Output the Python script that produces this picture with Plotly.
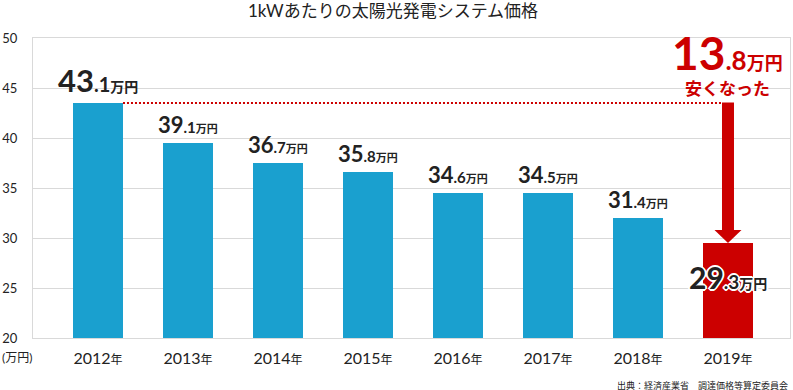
import plotly.graph_objects as go

# ---- data ----
years = ["2012", "2013", "2014", "2015", "2016", "2017", "2018", "2019"]
price_labels = [43.1, 39.1, 36.7, 35.8, 34.6, 34.5, 31.4, 29.3]   # printed values (万円)
bar_heights = [43.5, 39.5, 37.5, 36.6, 34.55, 34.55, 32.0, 29.5]  # heights as drawn
y_ticks = [20, 25, 30, 35, 40, 45, 50]

BLUE = "#1aa0cf"
RED = "#cc0000"
TXT = "#222222"
FONT = "Lato, 'Noto Sans CJK JP', sans-serif"

n = len(years)
xs = list(range(n))
colors = [BLUE] * (n - 1) + [RED]
bw = 50 / 90

fig = go.Figure()
fig.add_trace(go.Bar(x=xs, y=bar_heights, width=bw, marker=dict(color=colors, line=dict(width=0)),
                     base=0, hoverinfo="skip"))

def lab(v, big, mid, small):
    s = f"{v:.1f}"
    ip, dp = s.split(".")
    return (f"<b><span style='font-size:{big}px'>{ip}</span>"
            f"<span style='font-size:{mid}px'>.{dp}</span>"
            f"<span style='font-size:{small}px'>万円</span></b>")

WHITE_OUTLINE = ("1px 1px 0 #fff, -1px -1px 0 #fff, 1px -1px 0 #fff, -1px 1px 0 #fff, "
                 "2px 0 0 #fff, -2px 0 0 #fff, 0 2px 0 #fff, 0 -2px 0 #fff")

ann = []
for i in range(n):
    if i == 0:
        t = lab(price_labels[i], 31, 20, 14)
        ann.append(dict(x=i, y=bar_heights[i], xref="x", yref="y", text=t, showarrow=False,
                        yanchor="bottom", yshift=2, font=dict(family=FONT, color=TXT)))
    elif i == n - 1:
        t = lab(price_labels[i], 30, 19, 14)
        ann.append(dict(x=i, y=bar_heights[i], xref="x", yref="y", text=t, showarrow=False,
                        yanchor="middle", yshift=-34,
                        font=dict(family=FONT, color=TXT, shadow=WHITE_OUTLINE)))
    else:
        t = lab(price_labels[i], 22, 15, 11)
        ann.append(dict(x=i, y=bar_heights[i], xref="x", yref="y", text=t, showarrow=False,
                        yanchor="bottom", yshift=3, font=dict(family=FONT, color=TXT)))

diff = price_labels[0] - price_labels[-1]
ann.append(dict(x=n - 1, y=bar_heights[0], xref="x", yref="y", text=lab(diff, 46, 26, 18),
                showarrow=False, yanchor="bottom", yshift=21, font=dict(family=FONT, color=RED)))
ann.append(dict(x=n - 1, y=bar_heights[0], xref="x", yref="y", text="<b>安くなった</b>",
                showarrow=False, yanchor="bottom", yshift=2, font=dict(family=FONT, color=RED, size=17)))

ann.append(dict(x=0, y=0, xref="paper", yref="paper", text="(万円)", showarrow=False,
                xanchor="center", yanchor="middle", xshift=-16, yshift=-19,
                font=dict(family=FONT, color=TXT, size=12)))
ann.append(dict(x=1, y=0, xref="paper", yref="paper", text="出典：経済産業省　調達価格等算定委員会",
                showarrow=False, xanchor="right", yanchor="middle", yshift=-47,
                font=dict(family=FONT, color=TXT, size=9)))

# arrow from 2012 level down to 2019 bar
half = 6 / 90
head_half = 13.5 / 90
head_h = 1.3
shapes = [
    dict(type="line", xref="x", yref="y", x0=0 + bw / 2, x1=n - 1 - half, y0=bar_heights[0], y1=bar_heights[0],
         line=dict(color=RED, width=2, dash="2px,2px")),
    dict(type="rect", xref="x", yref="y", x0=n - 1 - half, x1=n - 1 + half,
         y0=bar_heights[-1] + head_h, y1=bar_heights[0] + 0.05, fillcolor=RED, line=dict(width=0)),
    dict(type="path", xref="x", yref="y",
         path=f"M {n-1-head_half},{bar_heights[-1]+head_h} L {n-1+head_half},{bar_heights[-1]+head_h} L {n-1},{bar_heights[-1]} Z",
         fillcolor=RED, line=dict(width=0)),
]

fig.update_layout(
    width=793, height=390,
    margin=dict(l=33, r=3, t=38, b=52, autoexpand=False),
    plot_bgcolor="white", paper_bgcolor="white",
    showlegend=False, bargap=0, hovermode=False,
    title=dict(text="1kWあたりの太陽光発電システム価格", x=393 / 793, xref="container", xanchor="center",
               y=1 - 11 / 390, yanchor="middle", font=dict(family=FONT, size=17, color=TXT)),
    annotations=ann, shapes=shapes,
    xaxis=dict(range=[-0.722, 7.689], tickvals=xs, automargin=False, fixedrange=True,
               ticktext=[f"{y}<span style='font-size:12px'>年</span>" for y in years],
               tickfont=dict(family=FONT, size=16, color=TXT), showgrid=False, zeroline=False,
               showline=True, linecolor="#d9d9d9", linewidth=1, mirror=True, ticks="", ticklabelstandoff=6),
    yaxis=dict(range=[20, 50], tickvals=y_ticks, automargin=False, fixedrange=True,
               tickfont=dict(family=FONT, size=13, color=TXT),
               showgrid=True, gridcolor="#d9d9d9", gridwidth=1, zeroline=False,
               showline=True, linecolor="#d9d9d9", linewidth=1, mirror=True, ticks="", ticklabelstandoff=12),
)

fig.write_html("out.html", config={"displayModeBar": False, "staticPlot": False},
               post_script="document.body.style.margin='0';document.body.style.padding='0';")
